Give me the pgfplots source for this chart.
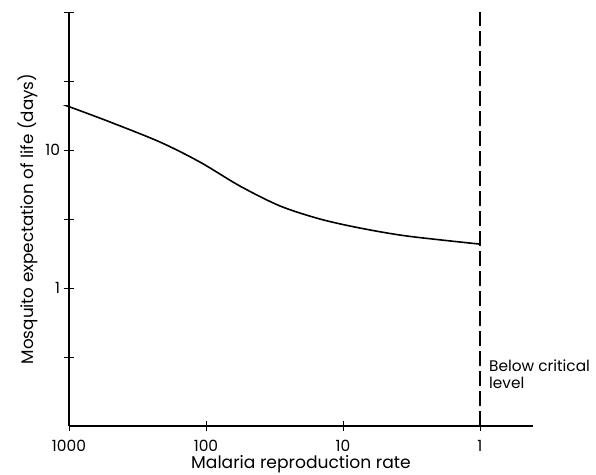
\documentclass[border=0pt]{standalone}
\usepackage{fontspec}
\setmainfont{Poppins}
\usepackage{pgfplots}
\pgfplotsset{compat=1.18}
\begin{document}
\begin{tikzpicture}
\path[use as bounding box] (-69bp,-49bp) rectangle (527bp,426bp);
\begin{axis}[
  at={(0,0)}, anchor=south west,
  scale only axis, width=464bp, height=414bp,
  xmode=log, ymode=log, x dir=reverse,
  xmin=0.41, xmax=1000, ymin=0.1, ymax=100,
  axis lines=left, axis line style={-, line width=1.1pt},
  xminorticks=false, yminorticks=false,
  xtick={1,10,100,1000}, xticklabels={1,10,100,1000},
  ytick={1,10}, yticklabels={1,10},
  extra y ticks={0.3162,3.162,31.62,100}, extra y tick labels={},
  extra y tick style={tick style={black, line width=0.9pt}},
  major tick length=11bp,
  tick style={black, line width=0.9pt},
  every tick label/.append style={font=\fontsize{15.5}{17}\selectfont},
  xticklabel style={yshift=-5bp},
  xlabel={Malaria reproduction rate},
  ylabel={Mosquito expectation of life (days)},
  xlabel style={font=\fontsize{17.2}{19}\selectfont, yshift=3bp},
  ylabel style={font=\fontsize{16.8}{18}\selectfont, yshift=-10bp},
  clip=false,
]
\addplot[black, line width=1.6pt, smooth] coordinates {
  (1000,20.6) (984,20.5) (502,15.96) (217,11.43) (111,8.19) (56.5,5.48) (28.8,3.93) (14.7,3.16) (7.52,2.72) (3.41,2.38) (1,2.08)
};
\addplot[black, line width=1.5pt, dash pattern=on 15bp off 5bp] coordinates {(1,0.1) (1,100)};
\node[anchor=north west, align=left, inner sep=0pt, xshift=9bp, yshift=-3bp, font=\fontsize{15.4}{17}\selectfont] at (axis cs:1,0.316) {Below critical\\level};
\end{axis}
\end{tikzpicture}
\end{document}
